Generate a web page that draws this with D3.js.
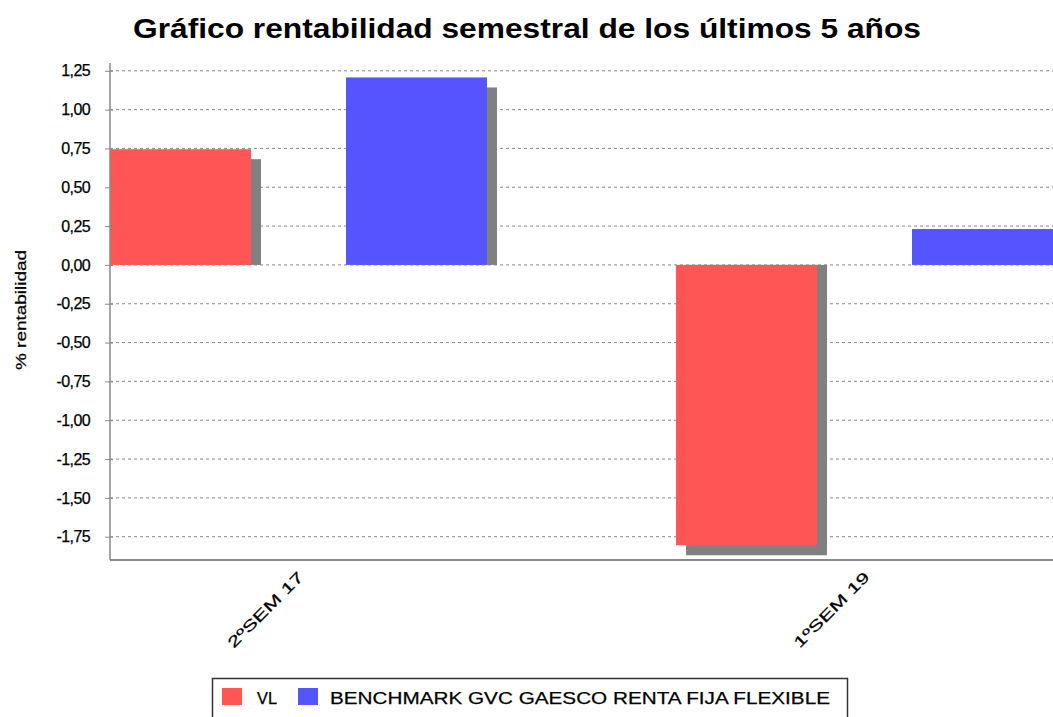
<!DOCTYPE html>
<html><head><meta charset="utf-8">
<script src="https://cdn.jsdelivr.net/npm/d3@7/dist/d3.min.js"></script>
<style>body{margin:0;background:#fff}svg{display:block;font-family:"Liberation Sans",Arial,sans-serif}</style>
</head><body><svg id="c" width="1053" height="717"></svg>
<script>
const categories = ["2ºSEM 17", "1ºSEM 19"];
const seriesNames = ["VL", "BENCHMARK GVC GAESCO RENTA FIJA FLEXIBLE"];
const vlValues = [0.745, -1.805];
const benchValues = [1.207, 0.231];
const yTicks = [1.25,1.0,0.75,0.5,0.25,0,-0.25,-0.5,-0.75,-1.0,-1.25,-1.5,-1.75];
const colors = ["#ff5555", "#5555ff"];

const svg = d3.select("#c");
const L = 110, R = 1053, T = 63, B = 560;
const y = d3.scaleLinear().domain([-1.9, 1.3]).range([B, T]);
const x0 = d3.scaleBand().domain(categories).range([L, R]).paddingInner(0.334).paddingOuter(0);
const x1 = d3.scaleBand().domain(seriesNames).range([0, x0.bandwidth()]).paddingInner(0.4025).paddingOuter(0);

svg.append("text").attr("x", 133).attr("y", 38)
  .attr("font-size", 28).attr("font-weight", "bold").attr("fill", "#000")
  .attr("textLength", 788).attr("lengthAdjust", "spacingAndGlyphs")
  .text("Gráfico rentabilidad semestral de los últimos 5 años");

const fmt = v => d3.format(".2f")(v).replace(".", ",").replace("−", "-");

// grid
svg.append("g").selectAll("line").data(yTicks).join("line")
  .attr("x1", L).attr("x2", R).attr("y1", d => y(d)).attr("y2", d => y(d))
  .attr("stroke", "#888").attr("stroke-width", 1).attr("stroke-dasharray", "3,3");

const data = categories.map((c, i) => ({cat: c, vals: [vlValues[i], benchValues[i]]}));
const groups = svg.append("g").selectAll("g").data(data).join("g")
  .attr("transform", d => `translate(${x0(d.cat)},0)`);
const bars = d => d.vals.map((v, j) => ({v, s: seriesNames[j], j}));
const off = 10;
// shadows: far end offset, base stays at zero
groups.selectAll("rect.sh").data(bars).join("rect").attr("class", "sh")
  .attr("x", d => x1(d.s) + off).attr("width", x1.bandwidth())
  .attr("y", d => d.v >= 0 ? y(d.v) + off : y(0))
  .attr("height", d => d.v >= 0 ? Math.max(0, y(0) - y(d.v) - off) : y(d.v) - y(0) + off)
  .attr("fill", "#808080");
groups.selectAll("rect.b").data(bars).join("rect").attr("class", "b")
  .attr("x", d => x1(d.s)).attr("width", x1.bandwidth())
  .attr("y", d => Math.min(y(d.v), y(0))).attr("height", d => Math.abs(y(d.v) - y(0)))
  .attr("fill", d => colors[d.j]);

// y axis
const ya = svg.append("g").attr("transform", `translate(${L},0)`)
  .call(d3.axisLeft(y).tickValues(yTicks).tickFormat(fmt).tickSize(4).tickPadding(16));
ya.select(".domain").remove();
ya.selectAll(".tick line").attr("stroke", "#888").attr("x2", 3).attr("x1", -5);
ya.selectAll("text").attr("font-size", 16).attr("fill", "#000")
  .attr("font-family", "Liberation Sans, Arial, sans-serif").attr("letter-spacing", "-0.6")
  .attr("stroke", "#000").attr("stroke-width", 0.25);
svg.append("line").attr("x1", L).attr("x2", L).attr("y1", T).attr("y2", B).attr("stroke", "#888").attr("stroke-width", 1.5);
svg.append("line").attr("x1", L).attr("x2", R).attr("y1", B).attr("y2", B).attr("stroke", "#888").attr("stroke-width", 2);

svg.append("text").attr("transform", `translate(26,310) rotate(-90)`)
  .attr("text-anchor", "middle").attr("font-size", 15).attr("fill", "#000")
  .attr("stroke", "#000").attr("stroke-width", 0.25)
  .attr("textLength", 120).attr("lengthAdjust", "spacingAndGlyphs").text("% rentabilidad");

// x labels
svg.append("g").selectAll("text").data(categories).join("text")
  .attr("transform", d => `translate(${x0(d) + x0.bandwidth()/2 + 6},${B + 18}) rotate(-45)`)
  .attr("text-anchor", "end").attr("font-size", 15).attr("fill", "#000")
  .attr("stroke", "#000").attr("stroke-width", 0.25)
  .attr("textLength", 100).attr("lengthAdjust", "spacingAndGlyphs").text(d => d);

// legend
const lg = svg.append("g");
lg.append("rect").attr("x", 212.5).attr("y", 678.5).attr("width", 635).attr("height", 45)
  .attr("fill", "#fff").attr("stroke", "#333").attr("stroke-width", 1.5);
const lx = [222, 298], tx = [257, 330], tw = [20, 500];
seriesNames.forEach((s, i) => {
  lg.append("rect").attr("x", lx[i]).attr("y", 688).attr("width", 20).attr("height", 17).attr("fill", colors[i]);
  lg.append("text").attr("x", tx[i]).attr("y", 704).attr("font-size", 17).attr("fill", "#000")
    .attr("stroke", "#000").attr("stroke-width", 0.25)
    .attr("textLength", tw[i]).attr("lengthAdjust", "spacingAndGlyphs").text(s);
});
</script></body></html>
